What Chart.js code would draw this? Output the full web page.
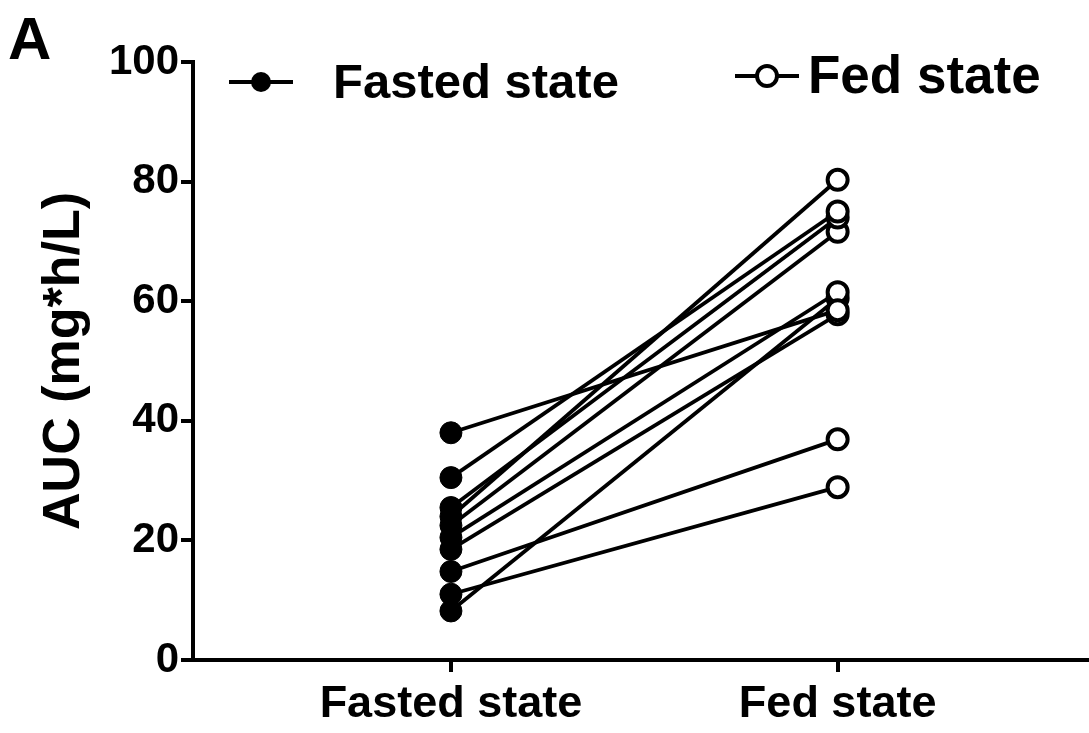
<!DOCTYPE html>
<html>
<head>
<meta charset="utf-8">
<script src="https://cdn.jsdelivr.net/npm/chart.js@4.4.1/dist/chart.umd.min.js"></script>
<style>
  html, body { margin: 0; padding: 0; background: #fff; overflow: hidden; }
  #wrap { position: relative; width: 1089px; height: 733px; }
</style>
</head>
<body>
<div id="wrap"><canvas id="aucChart" width="1089" height="733"></canvas></div>
<script>
// x categories, then paired values for each subject (fasted -> fed)
const categories = ['Fasted state', 'Fed state']
const fastedAUC = [38, 30.5, 25.5, 24, 22.5, 20.5, 18.5, 14.8, 11, 8.2]
const fedAUC = [58.5, 75, 74, 80.3, 71.6, 61.5, 57.8, 36.9, 28.9, 60.5]
const yTicks = [0, 20, 40, 60, 80, 100]
const legendLabels = ['Fasted state', 'Fed state']

const FONT = "'Liberation Sans', Arial, sans-serif"

const datasets = fastedAUC.map((v, i) => ({
  label: 'Subject ' + (i + 1),
  data: [{ x: 0, y: v }, { x: 1, y: fedAUC[i] }],
  borderColor: '#000',
  borderWidth: 3.8,
  pointRadius: [11, 10],
  pointBorderWidth: [1, 4],
  pointBackgroundColor: ['#000', '#fff'],
  pointBorderColor: '#000',
}))

// legend + panel letter drawn by hand
const legendPlugin = {
  id: 'pairedLegend',
  afterDraw(chart) {
    const ctx = chart.ctx
    ctx.save()
    ctx.fillStyle = '#000'
    ctx.strokeStyle = '#000'
    ctx.font = 'bold 60px ' + FONT
    ctx.textBaseline = 'top'
    ctx.textAlign = 'left'
    ctx.fillText('A', 8, 12)

    const items = [
      { x: 229, y: 82, filled: true, tx: 333, size: 49 },
      { x: 735, y: 76, filled: false, tx: 808, size: 53 },
    ]
    ctx.textBaseline = 'middle'
    items.forEach((it, i) => {
      ctx.lineWidth = 3.8
      ctx.beginPath()
      ctx.moveTo(it.x, it.y)
      ctx.lineTo(it.x + 64, it.y)
      ctx.stroke()
      ctx.beginPath()
      ctx.arc(it.x + 32, it.y, 10, 0, Math.PI * 2)
      if (it.filled) {
        ctx.fill()
      } else {
        ctx.fillStyle = '#fff'
        ctx.fill()
        ctx.lineWidth = 4
        ctx.stroke()
        ctx.fillStyle = '#000'
      }
      ctx.font = 'bold ' + it.size + 'px ' + FONT
      ctx.fillText(legendLabels[i], it.tx, it.y + 2)
    })
    ctx.restore()
  },
}

new Chart(document.getElementById('aucChart').getContext('2d'), {
  type: 'line',
  data: { datasets },
  options: {
    responsive: false,
    animation: false,
    layout: { autoPadding: false, padding: { top: 62, right: 0, bottom: 0, left: 0 } },
    plugins: {
      legend: { display: false },
      tooltip: { enabled: false },
    },
    scales: {
      x: {
        type: 'linear',
        min: -0.667,
        max: 1.65,
        afterBuildTicks: (scale) => {
          scale.ticks = [{ value: 0 }, { value: 1 }]
        },
        afterFit: (scale) => { scale.height = 73 },
        border: { color: '#000', width: 4 },
        grid: { drawOnChartArea: false, color: '#000', lineWidth: 4, tickLength: 12 },
        ticks: {
          color: '#000',
          padding: 6,
          font: { family: FONT, size: 45, weight: 'bold' },
          callback: (v) => categories[v],
          maxRotation: 0,
        },
      },
      y: {
        min: 0,
        max: 100,
        afterBuildTicks: (scale) => {
          scale.ticks = yTicks.map((v) => ({ value: v }))
        },
        afterFit: (scale) => { scale.width = 193 },
        border: { color: '#000', width: 4 },
        grid: { drawOnChartArea: false, color: '#000', lineWidth: 4, tickLength: 12 },
        ticks: {
          color: '#000',
          padding: 2,
          font: { family: FONT, size: 42, weight: 'bold' },
        },
        title: {
          display: true,
          text: 'AUC (mg*h/L)',
          color: '#000',
          font: { family: FONT, size: 52, weight: 'bold' },
          padding: { top: 33, bottom: 0 },
        },
      },
    },
  },
  plugins: [legendPlugin],
})
</script>
</body>
</html>
